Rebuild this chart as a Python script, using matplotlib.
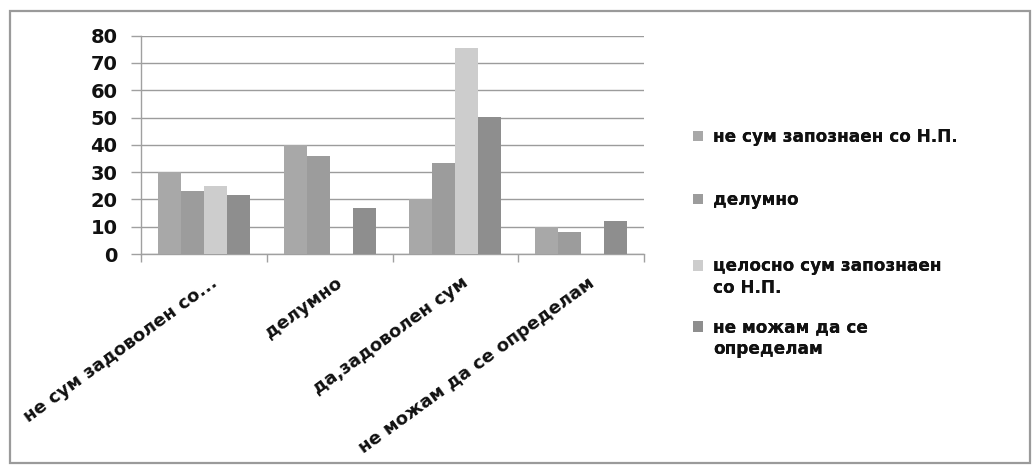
import matplotlib
matplotlib.use("Agg")
import matplotlib.pyplot as plt
from matplotlib.patches import Rectangle
from matplotlib.legend_handler import HandlerPatch
from matplotlib.font_manager import FontProperties
from matplotlib.transforms import ScaledTranslation
import numpy as np

categories = ["не сум задоволен со...", "делумно", "да,задоволен сум", "не можам да се определам"]
series_names = ["не сум запознаен со Н.П.", "делумно", "целосно сум запознаен со Н.П.", "не можам да се определам"]
values = [
    [30, 40, 20, 10],      # не сум запознаен со Н.П.
    [23, 36, 33.5, 8],     # делумно
    [25, 0, 75.5, 0],      # целосно сум запознаен со Н.П.
    [21.5, 16.8, 50.2, 12.2],  # не можам да се определам
]
y_ticks = [0, 10, 20, 30, 40, 50, 60, 70, 80]
colors = ["#a8a8a8", "#9c9c9c", "#cdcdcd", "#8e8e8e"]

plt.rcParams['font.family'] = ['DejaVu Sans']
plt.rcParams['font.weight'] = 'bold'

W, H = 1035, 470
fig = plt.figure(figsize=(W / 100, H / 100), dpi=100)
fig.patch.set_facecolor("white")
renderer = fig.canvas.get_renderer()

# outer border
fig.patches.append(Rectangle((10 / W, 1 - 463 / H), 1020 / W, 452 / H,
                             transform=fig.transFigure, fill=False,
                             edgecolor="#9a9a9a", linewidth=1.6))

ax_left, ax_right = 141 / W, 644 / W
ax_bottom, ax_top = 1 - 254 / H, 1 - 35.7 / H
ax = fig.add_axes([ax_left, ax_bottom, ax_right - ax_left, ax_top - ax_bottom])

n_series = len(series_names)
x = np.arange(len(categories))
bw = 0.183
bars = []
for i, (name, vals, c) in enumerate(zip(series_names, values, colors)):
    offs = (i - (n_series - 1) / 2) * bw
    b = ax.bar(x + offs, vals, width=bw, color=c, edgecolor="none", label=name, zorder=3)
    bars.append(b)

ax.set_xlim(-0.5, len(categories) - 0.5)
ax.set_ylim(0, 80)
ax.set_yticks(y_ticks)
ax.set_yticklabels([str(v) for v in y_ticks], fontsize=14, fontweight='bold', color="#111111")
ax.yaxis.grid(True, color="#9c9c9c", linewidth=1.0, zorder=0)
ax.set_axisbelow(True)

# x ticks at category boundaries; category labels centred on each group
ax.set_xticks(np.arange(len(categories) + 1) - 0.5)
ax.set_xticklabels([])
ax.tick_params(axis='x', which='major', length=6, color="#a0a0a0", width=1)
ax.tick_params(axis='y', length=7, color="#a0a0a0", width=1, pad=10)

lab_off = ScaledTranslation(14 / 100, -31 / 100, fig.dpi_scale_trans)
for xi, cat in zip(x, categories):
    ax.text(xi, 0, cat, transform=ax.get_xaxis_transform() + lab_off,
            rotation=36, ha='right', va='baseline', rotation_mode='anchor',
            fontsize=13, fontweight='bold', color="#111111", clip_on=False)

for s in ["top", "right"]:
    ax.spines[s].set_visible(False)
for s in ["left", "bottom"]:
    ax.spines[s].set_color("#a0a0a0")
    ax.spines[s].set_linewidth(1.0)

# legend: one entry per block, wrapped by pixel width like the original
leg_size = 12.2
leg_prop = FontProperties(family='DejaVu Sans', weight='bold', size=leg_size)
max_w = 255


def wrap_px(s):
    words = s.split(" ")
    lines, cur = [], ""
    for w_ in words:
        trial = (cur + " " + w_).strip()
        tw, _, _ = renderer.get_text_width_height_descent(trial, leg_prop, ismath=False)
        if tw > max_w and cur:
            lines.append(cur)
            cur = w_
        else:
            cur = trial
    lines.append(cur)
    return "\n".join(lines)


def handler_for(nlines):
    shift = (nlines - 1) * leg_size * 1.5 / 2

    def pf(legend, orig_handle, xdescent, ydescent, width, height, fontsize):
        return Rectangle((-xdescent, -ydescent + shift), width, height)
    return HandlerPatch(patch_func=pf)


legend_centers = [137, 200, 277, 338]
for b, name, yc in zip(bars, series_names, legend_centers):
    lab = wrap_px(name)
    nl = lab.count("\n") + 1
    leg = fig.legend([b[0]], [lab], loc="center left",
                     bbox_to_anchor=(693 / W, 1 - yc / H), frameon=False,
                     handlelength=0.6, handleheight=0.6, handletextpad=0.6,
                     borderpad=0, borderaxespad=0, prop=leg_prop,
                     handler_map={b[0]: handler_for(nl)})
    for t in leg.get_texts():
        t.set_color("#111111")
        t.set_linespacing(1.28)
    fig.add_artist(leg)

fig.savefig("out.png", dpi=100)
